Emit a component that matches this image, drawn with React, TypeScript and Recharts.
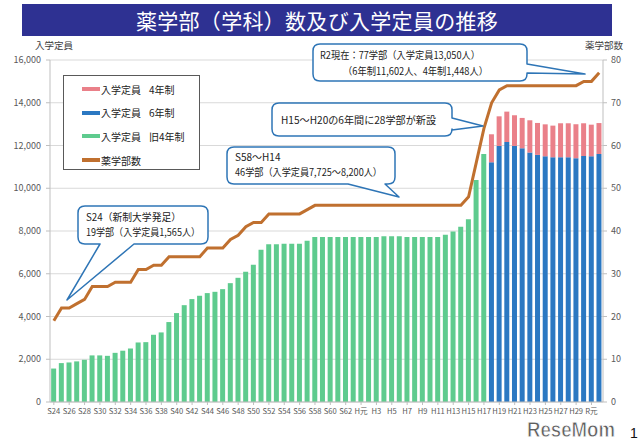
import React from 'react';
import { ComposedChart, Bar, Line, XAxis, YAxis, CartesianGrid } from 'recharts';

const categories = [
  'S24','S25','S26','S27','S28','S29','S30','S31','S32','S33','S34','S35','S36','S37','S38','S39',
  'S40','S41','S42','S43','S44','S45','S46','S47','S48','S49','S50','S51','S52','S53','S54','S55',
  'S56','S57','S58','S59','S60','S61','S62','S63','H元','H2','H3','H4','H5','H6','H7','H8','H9',
  'H10','H11','H12','H13','H14','H15','H16','H17','H18','H19','H20','H21','H22','H23','H24','H25',
  'H26','H27','H28','H29','H30','R元','R2',
];

// 入学定員 旧4年制 (S24 .. H17)
const oldFourYear = [
  1565, 1820, 1850, 1900, 1975, 2180, 2180, 2160, 2300, 2400, 2505, 2785, 2800, 3145, 3255, 3740,
  4160, 4530, 4815, 4970, 5095, 5155, 5280, 5560, 5810, 6090, 6420, 7120, 7385, 7385, 7400, 7400,
  7400, 7540, 7725, 7725, 7725, 7725, 7725, 7725, 7725, 7725, 7725, 7750, 7750, 7750, 7725, 7725,
  7725, 7725, 7725, 7820, 7975, 8200, 8550, 10390, 11600,
];
// 入学定員 6年制 (H18 .. R2)
const sixYear = [11215, 11980, 12165, 11980, 11870, 11670, 11560, 11495, 11450, 11450, 11450, 11405, 11510, 11495, 11602];
// 入学定員 4年制 (H18 .. R2)
const fourYear = [1310, 1385, 1420, 1435, 1420, 1510, 1495, 1495, 1480, 1590, 1590, 1590, 1530, 1480, 1448];
const newSystemStart = 57;

// 薬学部数
const schools = [
  19, 22, 22, 23, 24, 27, 27, 27, 28, 28, 28, 31, 31, 32, 32, 34,
  34, 34, 34, 34, 36, 36, 36, 38, 39, 41, 42, 42, 44, 44, 44, 44,
  44, 45, 46, 46, 46, 46, 46, 46, 46, 46, 46, 46, 46, 46, 46, 46, 46,
  46, 46, 46, 46, 46, 48, 56, 64, 70, 73, 74, 74, 74, 74, 74, 74,
  74, 74, 74, 74, 75, 75, 77,
];

const leftTicks = [0, 2000, 4000, 6000, 8000, 10000, 12000, 14000, 16000];
const rightTicks = [0, 10, 20, 30, 40, 50, 60, 70, 80];

const data = categories.map((cat, i) => ({
  cat,
  old4: i < oldFourYear.length ? oldFourYear[i] : null,
  six: i >= newSystemStart ? sixYear[i - newSystemStart] : null,
  four: i >= newSystemStart ? fourYear[i - newSystemStart] : null,
  schools: schools[i],
}));

const FONT = "'Noto Sans CJK JP', 'Noto Sans', sans-serif";
const GREEN = '#5ecb8e';
const BLUE = '#2b78c2';
const PINK = '#ea8089';
const BROWN = '#c0702f';
const CALLOUT = '#2e75b6';

function calloutRight(x: number, y: number, w: number, h: number, r: number, b1: number, b2: number, tx: number, ty: number) {
  return `M${x + r},${y} H${x + w - r} Q${x + w},${y} ${x + w},${y + r} V${b1} L${tx},${ty} L${x + w},${b2} V${y + h - r} Q${x + w},${y + h} ${x + w - r},${y + h} H${x + r} Q${x},${y + h} ${x},${y + h - r} V${y + r} Q${x},${y} ${x + r},${y} Z`;
}
function calloutBottom(x: number, y: number, w: number, h: number, r: number, b1: number, b2: number, tx: number, ty: number) {
  return `M${x + r},${y} H${x + w - r} Q${x + w},${y} ${x + w},${y + r} V${y + h - r} Q${x + w},${y + h} ${x + w - r},${y + h} H${b2} L${tx},${ty} L${b1},${y + h} H${x + r} Q${x},${y + h} ${x},${y + h - r} V${y + r} Q${x},${y} ${x + r},${y} Z`;
}

const legendItems = [
  { color: PINK, a: '入学定員', b: '4年制' },
  { color: BLUE, a: '入学定員', b: '6年制' },
  { color: GREEN, a: '入学定員', b: '旧4年制' },
  { color: BROWN, a: '薬学部数', b: '' },
];

export default function App() {
  return (
    <div style={{ position: 'absolute', left: 0, top: 0, width: 640, height: 442, background: '#fff', fontFamily: FONT, overflow: 'hidden' }}>
      <div style={{ position: 'absolute', left: 22, top: 4, width: 590, height: 32, background: '#2e3192', color: '#fff', fontSize: 21, lineHeight: '32px', textAlign: 'center', letterSpacing: 0.3 }}>
        薬学部（学科）数及び入学定員の推移
      </div>
      <div style={{ position: 'absolute', left: 35, top: 38, fontSize: 9.5, color: '#404040' }}>入学定員</div>
      <div style={{ position: 'absolute', left: 585, top: 38, fontSize: 9.5, color: '#404040' }}>薬学部数</div>

      <div style={{ position: 'absolute', left: 0, top: 0 }}>
        <ComposedChart width={640} height={442} data={data} margin={{ top: 60, right: 0, bottom: 20, left: 0 }} barCategoryGap="15%">
          <CartesianGrid yAxisId="left" vertical={false} stroke="#d9d9d9" />
          <XAxis dataKey="cat" interval={1} tick={{ fontSize: 7.6, fill: '#595959', fontFamily: FONT }} tickSize={3} tickMargin={4} tickLine={{ stroke: '#bfbfbf' }} axisLine={{ stroke: '#bfbfbf' }} height={20} />
          <YAxis yAxisId="left" orientation="left" width={50} domain={[0, 16000]} ticks={leftTicks} tickFormatter={(v: number) => v.toLocaleString('en-US')} tick={{ fontSize: 9, fill: '#595959', fontFamily: FONT }} tickSize={4} tickMargin={5} tickLine={{ stroke: '#bfbfbf' }} axisLine={{ stroke: '#bfbfbf' }} />
          <YAxis yAxisId="right" orientation="right" width={37} domain={[0, 80]} ticks={rightTicks} tick={{ fontSize: 9, fill: '#595959', fontFamily: FONT }} tickSize={4} tickMargin={4} tickLine={{ stroke: '#bfbfbf' }} axisLine={{ stroke: '#bfbfbf' }} />
          <Bar yAxisId="left" dataKey="old4" stackId="a" fill={GREEN} isAnimationActive={false} />
          <Bar yAxisId="left" dataKey="six" stackId="a" fill={BLUE} isAnimationActive={false} />
          <Bar yAxisId="left" dataKey="four" stackId="a" fill={PINK} isAnimationActive={false} />
          <Line yAxisId="right" dataKey="schools" type="linear" stroke={BROWN} strokeWidth={3} dot={false} isAnimationActive={false} />
        </ComposedChart>
      </div>

      <div style={{ position: 'absolute', left: 63, top: 75, width: 137, height: 95, border: '1px solid #595959', background: '#fff', boxSizing: 'border-box' }}>
        {legendItems.map((it, i) => (
          <div key={i} style={{ position: 'absolute', left: 18, top: 6 + i * 23.7, height: 14, display: 'flex', alignItems: 'center', fontSize: 10, color: '#222', whiteSpace: 'nowrap' }}>
            <span style={{ display: 'inline-block', width: 18, height: 4, background: it.color, marginRight: 1 }} />
            <span>{it.a}</span>
            {it.b && <span style={{ marginLeft: 8 }}>{it.b}</span>}
          </div>
        ))}
      </div>

      <svg width={640} height={442} style={{ position: 'absolute', left: 0, top: 0, pointerEvents: 'none' }}>
        <g fill="#fff" stroke={CALLOUT} strokeWidth={1.5} strokeLinejoin="round">
          <path d={calloutRight(313, 44, 214, 37, 7, 64, 73, 585, 74)} />
          <path d={calloutRight(272, 103, 180, 33, 7, 118, 130, 483, 126)} />
          <path d={calloutBottom(227, 147, 168, 37, 7, 348, 385, 399, 197)} />
          <path d={calloutBottom(78, 206, 130, 38, 7, 100, 134, 67, 300)} />
        </g>
        <g fontFamily={FONT} fontSize={10} fill="#222">
          <text x={320} y={59} textLength={160} lengthAdjust="spacingAndGlyphs">R2現在：77学部（入学定員13,050人）</text>
          <text x={343} y={75} textLength={145} lengthAdjust="spacingAndGlyphs">（6年制11,602人、4年制1,448人）</text>
          <text x={281} y={124} textLength={155} lengthAdjust="spacingAndGlyphs">H15～H20の6年間に28学部が新設</text>
          <text x={235} y={161}>S58～H14</text>
          <text x={235} y={176} textLength={147} lengthAdjust="spacingAndGlyphs">46学部（入学定員7,725～8,200人）</text>
          <text x={86} y={221} textLength={95} lengthAdjust="spacingAndGlyphs">S24（新制大学発足）</text>
          <text x={86} y={236} textLength={114} lengthAdjust="spacingAndGlyphs">19学部（入学定員1,565人）</text>
        </g>
        <text x={527} y={437} fontFamily="'Liberation Sans', sans-serif" fontWeight="bold" fontSize={22} fill="#5e5e5e" stroke="#fff" strokeWidth={0.8} textLength={88} lengthAdjust="spacingAndGlyphs">ReseMom</text>
        <text x={630} y={438} fontFamily="'Liberation Sans', sans-serif" fontSize={14} fill="#111">1</text>
      </svg>
    </div>
  );
}
